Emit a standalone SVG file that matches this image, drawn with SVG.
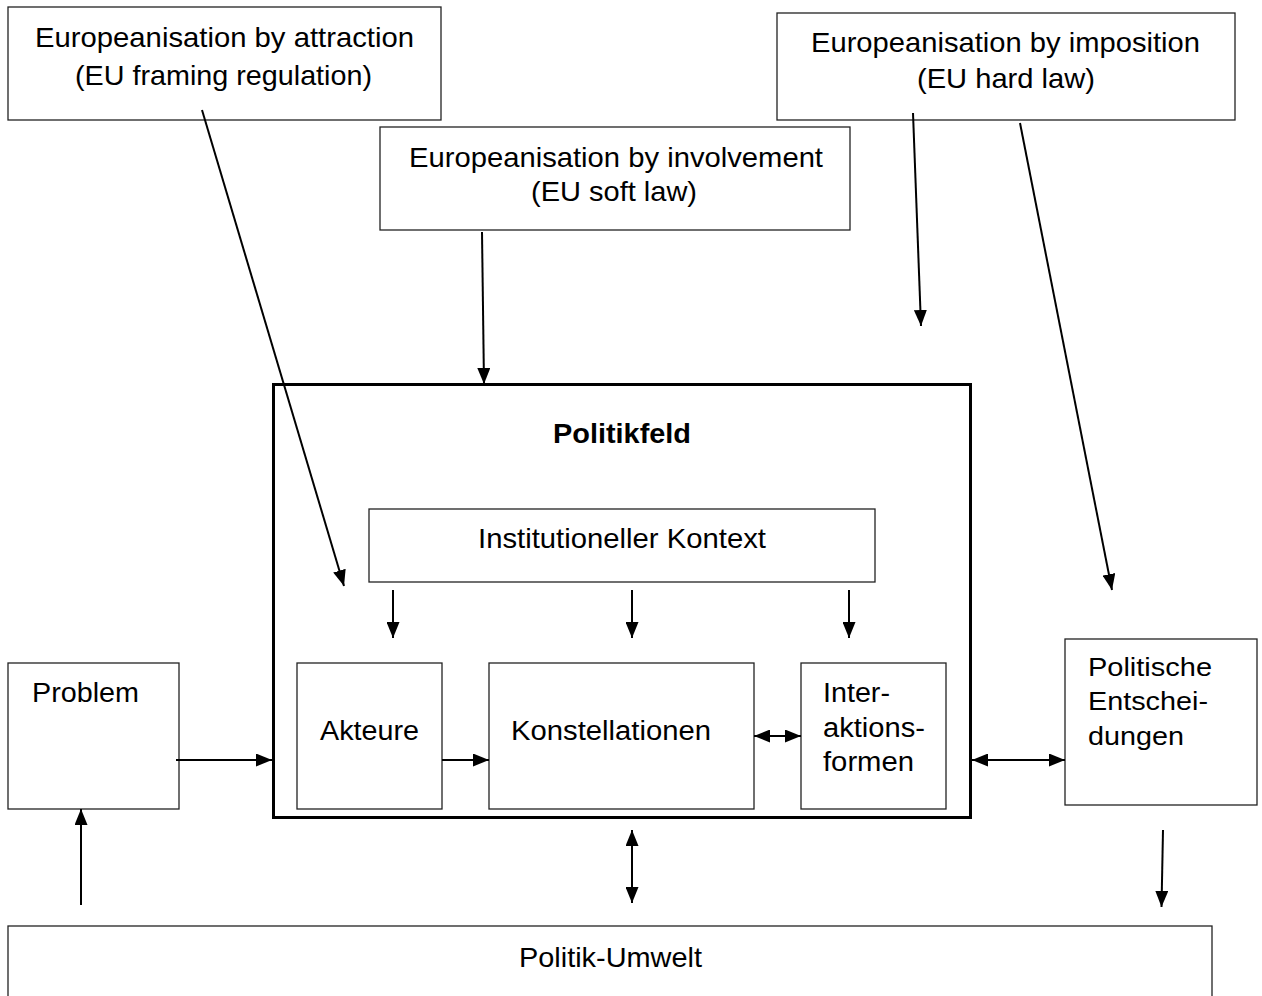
<svg xmlns="http://www.w3.org/2000/svg" width="1262" height="996" viewBox="0 0 1262 996">
<style>
.box{fill:#fff;stroke:#222;stroke-width:1.3}
.main{fill:none;stroke:#000;stroke-width:3}
.t{font-family:"Liberation Sans",Arial,sans-serif;fill:#000}
.a{stroke:#000;stroke-width:2;fill:none}
</style>
<defs>
<marker id="ah" markerUnits="userSpaceOnUse" markerWidth="16" markerHeight="13" refX="16" refY="6.5" orient="auto-start-reverse">
<path d="M0,0 L16,6.5 L0,13 z" fill="#000"/>
</marker>
</defs>
<g id="attraction">
<rect class="box" x="8" y="7" width="433" height="113"/>
<text class="t" font-size="28" x="35" y="47" textLength="379" lengthAdjust="spacingAndGlyphs">Europeanisation by attraction</text>
<text class="t" font-size="28" x="75" y="85" textLength="297" lengthAdjust="spacingAndGlyphs">(EU framing regulation)</text>
</g>
<g id="imposition">
<rect class="box" x="777" y="13" width="458" height="107"/>
<text class="t" font-size="28" x="811" y="52" textLength="389" lengthAdjust="spacingAndGlyphs">Europeanisation by imposition</text>
<text class="t" font-size="28" x="917" y="88" textLength="178" lengthAdjust="spacingAndGlyphs">(EU hard law)</text>
</g>
<g id="involvement">
<rect class="box" x="380" y="127" width="470" height="103"/>
<text class="t" font-size="28" x="409" y="167" textLength="414" lengthAdjust="spacingAndGlyphs">Europeanisation by involvement</text>
<text class="t" font-size="28" x="531" y="201" textLength="166" lengthAdjust="spacingAndGlyphs">(EU soft law)</text>
</g>
<g id="politikfeld">
<rect class="main" x="273.5" y="384.5" width="697" height="433"/>
<text class="t" font-size="28" font-weight="bold" x="553" y="443" textLength="138" lengthAdjust="spacingAndGlyphs">Politikfeld</text>
</g>
<g id="kontext">
<rect class="box" x="369" y="509" width="506" height="73"/>
<text class="t" font-size="28" x="478" y="548" textLength="288" lengthAdjust="spacingAndGlyphs">Institutioneller Kontext</text>
</g>
<g id="akteure">
<rect class="box" x="297" y="663" width="145" height="146"/>
<text class="t" font-size="27" x="320" y="740" textLength="99" lengthAdjust="spacingAndGlyphs">Akteure</text>
</g>
<g id="konstellationen">
<rect class="box" x="489" y="663" width="265" height="146"/>
<text class="t" font-size="27" x="511" y="740" textLength="200" lengthAdjust="spacingAndGlyphs">Konstellationen</text>
</g>
<g id="interaktionsformen">
<rect class="box" x="801" y="663" width="145" height="146"/>
<text class="t" font-size="27" x="823" y="702" textLength="67" lengthAdjust="spacingAndGlyphs">Inter-</text>
<text class="t" font-size="27" x="823" y="737" textLength="102" lengthAdjust="spacingAndGlyphs">aktions-</text>
<text class="t" font-size="27" x="823" y="771" textLength="91" lengthAdjust="spacingAndGlyphs">formen</text>
</g>
<g id="problem">
<rect class="box" x="8" y="663" width="171" height="146"/>
<text class="t" font-size="27" x="32" y="702" textLength="107" lengthAdjust="spacingAndGlyphs">Problem</text>
</g>
<g id="entscheidungen">
<rect class="box" x="1065" y="639" width="192" height="166"/>
<text class="t" font-size="26" x="1088" y="676" textLength="124" lengthAdjust="spacingAndGlyphs">Politische</text>
<text class="t" font-size="26" x="1088" y="710" textLength="120" lengthAdjust="spacingAndGlyphs">Entschei-</text>
<text class="t" font-size="26" x="1088" y="745" textLength="96" lengthAdjust="spacingAndGlyphs">dungen</text>
</g>
<g id="umwelt">
<rect class="box" x="8" y="926" width="1204" height="90"/>
<text class="t" font-size="28" x="519" y="967" textLength="183" lengthAdjust="spacingAndGlyphs">Politik-Umwelt</text>
</g>
<g id="connectors">
<line class="a" x1="202" y1="110" x2="344" y2="586" marker-end="url(#ah)"/>
<line class="a" x1="482" y1="232" x2="484" y2="384" marker-end="url(#ah)"/>
<line class="a" x1="913" y1="113" x2="921" y2="326" marker-end="url(#ah)"/>
<line class="a" x1="1020" y1="123" x2="1112" y2="590" marker-end="url(#ah)"/>
<line class="a" x1="393" y1="590" x2="393" y2="638" marker-end="url(#ah)"/>
<line class="a" x1="632" y1="590" x2="632" y2="638" marker-end="url(#ah)"/>
<line class="a" x1="849" y1="590" x2="849" y2="638" marker-end="url(#ah)"/>
<line class="a" x1="442" y1="760" x2="489" y2="760" marker-end="url(#ah)"/>
<line class="a" x1="754" y1="736" x2="801" y2="736" marker-start="url(#ah)" marker-end="url(#ah)"/>
<line class="a" x1="176" y1="760" x2="272" y2="760" marker-end="url(#ah)"/>
<line class="a" x1="972" y1="760" x2="1065" y2="760" marker-start="url(#ah)" marker-end="url(#ah)"/>
<line class="a" x1="81" y1="905" x2="81" y2="809" marker-end="url(#ah)"/>
<line class="a" x1="632" y1="830" x2="632" y2="903" marker-start="url(#ah)" marker-end="url(#ah)"/>
<line class="a" x1="1163" y1="830" x2="1161.5" y2="907" marker-end="url(#ah)"/>
</g>
</svg>
